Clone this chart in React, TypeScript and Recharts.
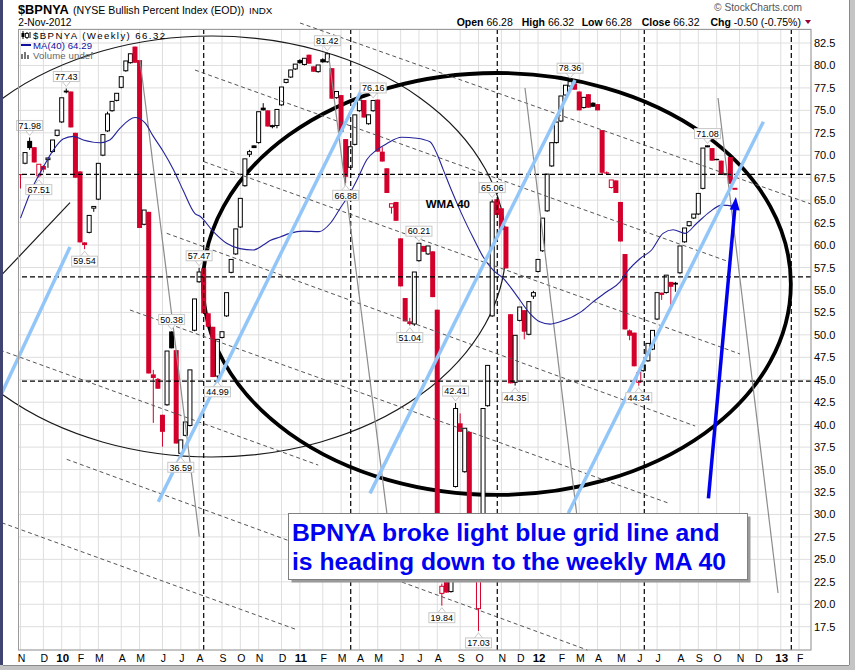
import React from 'react';
import {
  ComposedChart,
  Bar,
  Line,
  XAxis,
  YAxis,
  CartesianGrid,
  ReferenceLine,
  ReferenceArea,
  ReferenceDot,
} from 'recharts';

// weekly bars, week 0 = week ending 6-Nov-2009, week 156 = 2-Nov-2012
const OPEN = [
  67.9, 69.0, 71.6, 70.9, 67.6, 68.8, 69.4, 70.3, 72.1, 73.6,
  77.2, 77.1, 72.5, 68.2, 60.3, 61.3, 64.0, 65.0, 69.9, 72.6,
  74.85, 76.0, 77.45, 79.3, 80.2, 82.1, 80.6, 62.2, 63.7, 45.6,
  45.1, 41.1, 42.1, 50.38, 48.3, 36.7, 38.7, 39.8, 50.4, 55.8,
  57.4, 52.4, 50.9, 45.3, 49.6, 52.0, 56.85, 58.9, 61.9, 66.5,
  70.0, 71.1, 71.3, 75.3, 75.0, 73.2, 73.2, 75.5, 78.0, 78.6,
  79.5, 80.6, 80.0, 81.2, 79.9, 79.2, 80.7, 80.3, 79.7, 76.3,
  76.7, 71.8, 68.55, 71.1, 74.85, 76.15, 73.4, 74.85, 76.2, 70.4,
  68.55, 64.1, 64.8, 60.75, 54.1, 51.5, 51.1, 58.15, 59.9, 58.9,
  59.3, 52.8, 21.1, 23.2, 21.3, 33.0, 40.15, 34.65, 39.2, 24.5,
  19.4, 25.5, 42.0, 52.0, 65.1, 64.1, 62.05, 52.3, 44.6, 51.5,
  52.75, 49.95, 54.2, 56.95, 59.25, 63.7, 68.7, 71.3, 73.7, 76.6,
  77.6, 78.0, 77.1, 75.2, 76.8, 75.85, 75.7, 72.8, 68.1, 66.3,
  67.2, 64.8, 59.0, 50.5, 50.25, 44.6, 45.9, 47.0, 48.3, 51.65,
  54.7, 54.6, 55.9, 55.8, 56.8, 60.25, 62.05, 62.9, 63.35, 66.2,
  70.9, 70.8, 69.6, 69.4, 67.8, 69.8, 66.28,
];
const HIGH = [
  67.9, 70.3, 71.98, 70.9, 69.0, 68.9, 69.7, 71.7, 72.8, 76.4,
  77.43, 77.1, 72.5, 68.2, 60.3, 63.3, 64.3, 69.1, 72.3, 74.85,
  76.0, 76.9, 78.75, 80.5, 81.3, 82.1, 80.6, 63.9, 63.7, 46.1,
  45.2, 41.1, 48.2, 50.38, 48.3, 38.3, 40.3, 46.1, 54.0, 57.47,
  57.4, 52.4, 50.9, 49.5, 50.35, 54.7, 58.4, 61.8, 65.2, 69.6,
  70.6, 71.1, 74.85, 75.8, 75.0, 73.4, 75.1, 77.6, 78.45, 79.5,
  80.15, 80.7, 80.8, 81.2, 79.9, 80.05, 80.8, 81.42, 79.7, 77.1,
  76.7, 71.8, 70.95, 74.5, 76.15, 76.15, 74.5, 76.16, 76.2, 70.9,
  68.55, 64.6, 64.8, 60.75, 54.1, 51.9, 57.0, 60.21, 59.9, 59.9,
  59.3, 52.8, 22.3, 23.2, 29.5, 42.41, 41.25, 39.6, 39.2, 26.5,
  25.0, 41.8, 46.6, 65.06, 65.1, 64.1, 62.05, 52.3, 49.95, 53.1,
  52.75, 53.7, 54.9, 58.4, 63.0, 67.9, 71.4, 73.7, 76.6, 77.8,
  78.36, 78.0, 77.1, 76.45, 76.8, 75.9, 75.7, 72.8, 68.2, 67.25,
  67.2, 64.8, 59.0, 50.6, 50.25, 45.8, 46.65, 49.05, 50.5, 54.7,
  54.7, 56.65, 55.9, 55.9, 59.9, 61.9, 62.6, 63.45, 65.75, 70.8,
  71.08, 70.8, 69.6, 69.4, 67.95, 69.8, 66.32,
];
const LOW = [
  66.3, 69.0, 70.6, 69.2, 67.51, 68.1, 68.6, 70.3, 72.1, 73.6,
  76.9, 73.1, 67.5, 60.3, 59.54, 61.3, 63.7, 65.0, 69.9, 72.6,
  74.85, 76.0, 77.45, 79.3, 80.2, 80.3, 61.9, 62.2, 45.7, 40.2,
  44.0, 37.55, 42.1, 48.5, 37.9, 36.59, 38.7, 39.8, 50.4, 55.8,
  52.4, 50.9, 45.3, 44.99, 49.6, 52.0, 56.85, 58.9, 61.9, 66.5,
  69.8, 70.8, 71.3, 75.0, 73.2, 73.0, 73.0, 75.5, 78.0, 78.6,
  79.5, 80.2, 80.0, 80.2, 79.3, 79.2, 80.3, 80.3, 76.3, 76.3,
  72.6, 66.88, 68.55, 71.1, 74.85, 74.2, 73.4, 74.85, 70.4, 69.3,
  65.8, 63.5, 62.7, 55.4, 51.5, 51.04, 51.0, 58.15, 59.25, 58.9,
  54.2, 23.5, 19.84, 21.3, 21.3, 33.0, 39.2, 34.65, 24.0, 24.5,
  17.03, 25.5, 42.0, 52.0, 63.35, 61.7, 57.4, 44.6, 44.35, 51.5,
  49.5, 49.95, 54.0, 56.95, 59.25, 63.7, 68.7, 71.3, 73.7, 76.6,
  77.6, 77.3, 75.0, 75.2, 75.3, 75.4, 75.0, 67.8, 67.8, 66.3,
  65.8, 60.4, 50.6, 49.4, 46.5, 44.34, 45.9, 47.0, 48.3, 51.65,
  53.9, 54.6, 52.8, 54.8, 56.8, 60.25, 62.05, 62.9, 63.35, 66.2,
  70.9, 69.4, 69.45, 67.9, 67.8, 66.82, 66.28,
];
const CLOSE = [
  67.8, 70.3, 70.8, 69.2, 69.0, 68.4, 69.7, 71.7, 72.8, 76.4,
  77.0, 73.1, 67.5, 60.3, 60.0, 63.3, 64.3, 69.1, 72.3, 74.6,
  76.0, 76.9, 78.75, 80.5, 81.3, 80.3, 61.9, 63.9, 45.7, 45.2,
  44.0, 39.2, 48.2, 48.5, 37.9, 38.3, 40.3, 46.1, 54.0, 57.0,
  52.4, 50.9, 45.3, 49.5, 50.35, 54.7, 58.4, 61.8, 65.2, 69.6,
  70.4, 70.8, 74.85, 75.0, 73.2, 73.3, 75.1, 77.6, 78.45, 79.5,
  80.15, 80.25, 80.8, 80.2, 79.3, 80.05, 80.35, 81.3, 76.3, 77.1,
  72.6, 67.6, 70.95, 74.5, 76.15, 74.2, 74.5, 76.1, 70.4, 69.3,
  65.8, 64.6, 62.7, 55.4, 51.5, 51.2, 57.0, 60.2, 59.25, 59.9,
  54.2, 23.5, 22.0, 21.3, 29.5, 41.8, 39.2, 39.6, 24.0, 26.5,
  25.0, 41.8, 46.6, 64.8, 63.35, 61.7, 57.4, 44.6, 49.95, 53.1,
  50.35, 53.7, 54.7, 58.4, 63.0, 67.9, 71.4, 73.7, 76.6, 77.8,
  78.2, 77.3, 75.0, 76.45, 75.3, 75.4, 75.0, 68.05, 67.95, 67.25,
  65.8, 60.4, 50.6, 49.9, 46.5, 45.8, 46.65, 49.05, 50.5, 54.7,
  54.45, 56.65, 55.35, 55.6, 59.9, 61.9, 62.6, 63.45, 65.75, 70.8,
  71.05, 69.4, 69.45, 67.9, 67.95, 66.82, 66.32,
];
const PREV_CLOSE = 68.3;

// MA(40)
const MA_WEEK = [
  0, 2.7, 5, 7.2, 9.3, 11.5, 13.7, 17.4, 19.5, 21.7, 25, 27.2, 29, 31.2, 33.4,
  35.5, 38.1, 39.2, 42.1, 45, 47.9, 50.8, 53, 54.5, 56.7, 58.8, 61.7, 65.2,
  67.6, 69.8, 71.9, 73.8, 75.6, 77.8, 80, 83.2, 86.5, 89.4, 90.9, 92.3, 94.1,
  96.3, 98.9, 101, 103.2, 105.4, 108.3, 111.2, 113.4, 115.6, 117.8, 122.2,
  125.1, 128, 130.9, 132.4, 135.3, 137.8, 140.3, 142.5, 145.1, 147.6, 150.5,
  153.1, 156,
];
const MA_VALUE = [
  63.0, 66.5, 68.7, 70.6, 71.8, 72.1, 71.7, 71.4, 71.7, 73.0, 74.2, 73.6, 72.1,
  70.4, 68.4, 66.1, 63.5, 63.2, 61.5, 60.2, 59.6, 59.45, 60.0, 60.5, 60.9, 61.3,
  61.55, 61.5, 62.4, 64.1, 65.75, 67.6, 69.5, 70.6, 71.3, 72.0, 71.9, 71.5,
  70.2, 68.4, 66.1, 63.5, 60.75, 58.7, 57.2, 56.3, 54.4, 52.4, 51.45, 51.2,
  51.45, 52.5, 53.7, 54.8, 55.9, 57.0, 58.5, 59.45, 61.3, 61.7, 61.3, 62.4,
  63.7, 64.45, 64.29,
];

const MONTH_TICKS = [
  0, 5, 9, 13, 17, 22, 26, 31, 35, 39, 44, 48, 52, 57, 61, 66, 70, 74, 78, 83,
  87, 91, 96, 100, 105, 109, 113, 118, 122, 126, 131, 135, 139, 144, 148, 152,
  157, 161, 166, 170,
];
const MONTH_LABELS = [
  'N', 'D', '10', 'F', 'M', 'A', 'M', 'J', 'J', 'A', 'S', 'O', 'N', 'D', '11',
  'F', 'M', 'A', 'M', 'J', 'J', 'A', 'S', 'O', 'N', 'D', '12', 'F', 'M', 'A',
  'M', 'J', 'J', 'A', 'S', 'O', 'N', 'D', '13', 'F',
];
const PRICE_TICKS = [
  17.5, 20, 22.5, 25, 27.5, 30, 32.5, 35, 37.5, 40, 42.5, 45, 47.5, 50, 52.5,
  55, 57.5, 60, 62.5, 65, 67.5, 70, 72.5, 75, 77.5, 80, 82.5,
];

// high / low tags
const TAG_WEEKS = [2, 10, 4, 14, 33, 35, 39, 43, 67, 71, 77, 85, 87, 92, 95, 100, 103, 108, 120, 135, 150];
const TAG_TEXT = ['71.98', '77.43', '67.51', '59.54', '50.38', '36.59', '57.47', '44.99', '81.42', '66.88', '76.16', '51.04', '60.21', '19.84', '42.41', '17.03', '65.06', '44.35', '78.36', '44.34', '71.08'];
const TAG_UP = [true, true, false, false, true, false, true, false, true, false, true, false, true, false, true, false, true, false, true, false, true];

// drawn annotations, [week1, value1, week2, value2]
const DASHED_TRENDS = [
  [61.03, 84.73, 172.6, 64.57],
  [38.1, 79.49, 154.9, 58.1],
  [40.07, 69.28, 157.1, 47.87],
  [31.92, 61.31, 147.3, 39.85],
  [23.9, 52.77, 141.4, 31.28],
  [-4.48, 48.31, 65.0, 35.5],
  [10.09, 36.14, 123.8, 14.9],
  [-4.1, 29.08, 59.93, 17.24],
];
const BLUE_GRID = [
  [-4.1, 43.49, 10.81, 59.78],
  [30.09, 31.42, 75.22, 78.05],
  [76.31, 32.35, 121.07, 78.38],
  [119.6, 30.13, 162.2, 73.74],
];
const GRAY_LINES = [
  [26.09, 80.61, 39.04, 27.52],
  [67.36, 80.83, 80.02, 30.05],
  [110.15, 77.49, 123.25, 22.48],
  [152.3, 76.38, 165.4, 21.25],
];
const THIN_LINE = [-4.48, 56.48, 10.81, 64.72];
const ARROW = [150.2, 31.8, 156.2, 65.35];
const H_LEVELS = [67.88, 56.45, 44.85];
const V_WEEKS = [40, 72.1, 104.1, 136.2, 168.3];
const THIN_ELLIPSE = [-22.55, 106.0, 36.4, 83.28];
const THICK_ELLIPSE = [39.85, 168.2, 32.17, 79.16];

const X_MIN = -0.437;
const X_MAX = 172.6;
const Y_MIN = 14.906;
const Y_MAX = 84.06;
const RED = '#d3002c';
const FONT = '"Liberation Sans", Arial, sans-serif';

const candles = CLOSE.map((c, i) => ({
  i,
  o: OPEN[i],
  h: HIGH[i],
  l: LOW[i],
  c,
  prev: i === 0 ? PREV_CLOSE : CLOSE[i - 1],
  span: [Y_MIN, Y_MAX],
}));
const maData = MA_WEEK.map((w, k) => ({ i: w, ma: MA_VALUE[k] }));

const Candle = (props: any) => {
  const { x, y, width, height, payload } = props;
  if (!payload || height == null) return null;
  const cx = x + width / 2;
  const py = (v: number) => y + ((Y_MAX - v) / (Y_MAX - Y_MIN)) * height;
  const { o, h, l, c, prev } = payload;
  const color = c < prev ? RED : '#000';
  const hollow = c > o;
  const top = py(Math.max(o, c));
  const bh = Math.max(1, py(Math.min(o, c)) - top);
  return (
    <g>
      <line x1={cx} x2={cx} y1={py(h)} y2={py(l)} stroke={color} strokeWidth={1} />
      {hollow ? (
        <rect x={cx - 2} y={top} width={4} height={Math.max(1, bh - 1)} fill="#fff" stroke={color} strokeWidth={1} />
      ) : (
        <rect x={cx - 2.5} y={top} width={5} height={bh} fill={color} />
      )}
    </g>
  );
};

const MonthTick = (props: any) => {
  const { x, y, payload } = props;
  const label = MONTH_LABELS[MONTH_TICKS.indexOf(payload.value)];
  const year = /\d/.test(label);
  return (
    <text x={x + 1} y={y + 12} textAnchor="middle" fontFamily={FONT} fontSize={year ? 11.5 : 10.5} fontWeight={year ? 'bold' : 'normal'} fill="#000">
      {label}
    </text>
  );
};

const PriceTick = (props: any) => {
  const { x, y, payload } = props;
  return (
    <text x={x} y={y + 4} textAnchor="start" fontFamily={FONT} fontSize={11} fill="#000">
      {payload.value.toFixed(1)}
    </text>
  );
};

const tagShape = (text: string, up: boolean) => (p: any) => {
  const { cx, cy } = p;
  const w = 26;
  const h = 10;
  const by = up ? cy - 7 - h : cy + 7;
  const tipY = up ? cy - 2 : cy + 2;
  const baseY = up ? by + h : by;
  return (
    <g>
      <polyline points={`${cx - 4},${baseY} ${cx},${tipY} ${cx + 4},${baseY}`} fill="#fff" stroke="#c8c8c8" strokeWidth={1} />
      <rect x={cx - w / 2} y={by} width={w} height={h} fill="#fff" stroke="#c8c8c8" strokeWidth={1} />
      <text x={cx} y={by + 8.3} textAnchor="middle" fontFamily={FONT} fontSize={9} fill="#000">
        {text}
      </text>
    </g>
  );
};

const ellipseShape = (stroke: string, sw: number) => (p: any) => (
  <ellipse cx={p.x + p.width / 2} cy={p.y + p.height / 2} rx={Math.abs(p.width / 2)} ry={Math.abs(p.height / 2)} fill="none" stroke={stroke} strokeWidth={sw} />
);

const arrowShape = (p: any) => {
  const { x1, y1, x2, y2 } = p;
  const ang = Math.atan2(y2 - y1, x2 - x1);
  const len = 13;
  const half = 5;
  const bx = x2 - len * Math.cos(ang);
  const by = y2 - len * Math.sin(ang);
  const nx = -Math.sin(ang) * half;
  const ny = Math.cos(ang) * half;
  return (
    <g>
      <line x1={x1} y1={y1} x2={bx} y2={by} stroke="#0000f0" strokeWidth={3.5} />
      <polygon points={`${x2},${y2} ${bx + nx},${by + ny} ${bx - nx},${by - ny}`} fill="#0000f0" />
    </g>
  );
};

const seg = (s: number[]) => [
  { x: s[0], y: s[1] },
  { x: s[2], y: s[3] },
];

export default function App() {
  return (
    <div style={{ position: 'absolute', left: 0, top: 0, width: 855, height: 670, background: '#fff', overflow: 'hidden' }}>
      <ComposedChart width={855} height={670} data={candles} margin={{ top: 29, right: 0, bottom: 0, left: 18.5 }}>
        <CartesianGrid stroke="#dedede" strokeWidth={1} />
        <XAxis
          dataKey="i"
          type="number"
          domain={[X_MIN, X_MAX]}
          allowDataOverflow
          ticks={MONTH_TICKS}
          interval={0}
          tick={<MonthTick />}
          tickLine={false}
          axisLine={false}
          tickSize={0}
          tickMargin={0}
          height={20}
        />
        <YAxis
          orientation="right"
          type="number"
          domain={[Y_MIN, Y_MAX]}
          allowDataOverflow
          ticks={PRICE_TICKS}
          interval={0}
          tick={<PriceTick />}
          tickLine={false}
          axisLine={false}
          tickSize={0}
          tickMargin={3}
          width={44}
        />
        {H_LEVELS.map((v) => (
          <ReferenceLine key={`h${v}`} y={v} stroke="#000" strokeDasharray="5 3" strokeWidth={1.2} />
        ))}
        {V_WEEKS.map((w) => (
          <ReferenceLine key={`v${w}`} x={w} stroke="#000" strokeDasharray="5 3" strokeWidth={1.2} />
        ))}
        {DASHED_TRENDS.map((s, k) => (
          <ReferenceLine key={`d${k}`} segment={seg(s)} stroke="#555" strokeDasharray="4 3" strokeWidth={1} ifOverflow="visible" />
        ))}
        <ReferenceArea x1={THIN_ELLIPSE[0]} x2={THIN_ELLIPSE[1]} y1={THIN_ELLIPSE[2]} y2={THIN_ELLIPSE[3]} ifOverflow="visible" shape={ellipseShape('#1a1a1a', 1.2)} />
        <ReferenceLine segment={seg(THIN_LINE)} stroke="#1a1a1a" strokeWidth={1.2} ifOverflow="visible" />
        {GRAY_LINES.map((s, k) => (
          <ReferenceLine key={`g${k}`} segment={seg(s)} stroke="#8c8c8c" strokeWidth={1.2} ifOverflow="visible" />
        ))}
        <Bar dataKey="span" barSize={5} shape={<Candle />} isAnimationActive={false} />
        <Line data={maData} dataKey="ma" type="monotone" stroke="#23239b" strokeWidth={1.1} dot={false} isAnimationActive={false} />
        {BLUE_GRID.map((s, k) => (
          <ReferenceLine key={`b${k}`} segment={seg(s)} stroke="#93c6f8" strokeWidth={3.5} ifOverflow="visible" />
        ))}
        <ReferenceArea x1={THICK_ELLIPSE[0]} x2={THICK_ELLIPSE[1]} y1={THICK_ELLIPSE[2]} y2={THICK_ELLIPSE[3]} ifOverflow="visible" shape={ellipseShape('#000', 3.8)} />
        <ReferenceLine segment={seg(ARROW)} ifOverflow="visible" shape={arrowShape} />
        {TAG_WEEKS.map((w, k) => (
          <ReferenceDot key={`t${k}`} x={w} y={TAG_UP[k] ? HIGH[w] : LOW[w]} r={0} ifOverflow="visible" shape={tagShape(TAG_TEXT[k], TAG_UP[k])} />
        ))}
        <ReferenceDot
          x={93.3}
          y={64.57}
          r={0}
          ifOverflow="visible"
          shape={(p: any) => (
            <text x={p.cx} y={p.cy + 4} textAnchor="middle" fontFamily={FONT} fontSize={11.5} fontWeight="bold" fill="#000">
              WMA 40
            </text>
          )}
        />
      </ComposedChart>

      <svg width={855} height={670} style={{ position: 'absolute', left: 0, top: 0, pointerEvents: 'none' }} fontFamily={FONT}>
        <rect x={18.5} y={29.5} width={792.5} height={620.5} fill="none" stroke="#9a9a9a" strokeWidth={1} />
        <rect x={0} y={0} width={3} height={670} fill="#3f4470" />
        <rect x={849} y={0} width={6} height={670} fill="#c4c4c4" />
        <rect x={849} y={0} width={1} height={666} fill="#8a8a8a" />
        <rect x={0} y={665} width={855} height={5} fill="#c4c4c4" />
        <rect x={3} y={665} width={846} height={1} fill="#8a8a8a" />

        <text x={18} y={14} fontSize={12.8} fontWeight="bold" fill="#000">$BPNYA</text>
        <text x={73} y={13.5} fontSize={10.6} fill="#000">(NYSE Bullish Percent Index (EOD))</text>
        <text x={249} y={13.5} fontSize={9.8} fill="#000">INDX</text>
        <text x={18.3} y={26} fontSize={10.2} fill="#000">2-Nov-2012</text>
        <text x={802} y={11} textAnchor="end" fontSize={10.2} fill="#555">© StockCharts.com</text>

        <text x={456.7} y={25.5} fontSize={10.5} fill="#000">
          <tspan fontWeight="bold">Open</tspan> 66.28
        </text>
        <text x={521.7} y={25.5} fontSize={10.5} fill="#000">
          <tspan fontWeight="bold">High</tspan> 66.32
        </text>
        <text x={581.7} y={25.5} fontSize={10.5} fill="#000">
          <tspan fontWeight="bold">Low</tspan> 66.28
        </text>
        <text x={641.7} y={25.5} fontSize={10.5} fill="#000">
          <tspan fontWeight="bold">Close</tspan> 66.32
        </text>
        <text x={710.5} y={25.5} fontSize={10.5} fill="#000">
          <tspan fontWeight="bold">Chg</tspan> -0.50 (-0.75%)
        </text>
        <polygon points="805,20 811,20 808,24" fill="#990033" />

        <g>
          <line x1={23} x2={23} y1={31} y2={39} stroke="#000" />
          <rect x={21.5} y={33} width={3} height={4} fill="#000" />
          <line x1={27} x2={27} y1={32} y2={39} stroke="#000" />
          <rect x={25.5} y={33.5} width={3} height={4} fill="#fff" stroke="#000" strokeWidth={0.8} />
          <line x1={30} x2={30} y1={32} y2={38} stroke="#000" />
        </g>
        <text x={33} y={39} fontSize={9.6} fill="#000" textLength={132} lengthAdjust="spacing">$BPNYA (Weekly) 66.32</text>
        <line x1={21} x2={31} y1={45} y2={45} stroke="#1010a0" strokeWidth={2} />
        <text x={33} y={49} fontSize={9.6} fill="#1010a0" textLength={59} lengthAdjust="spacing">MA(40) 64.29</text>
        <g fill="#777">
          <rect x={21} y={54} width={2} height={5} />
          <rect x={24} y={52} width={2} height={7} />
          <rect x={27} y={55} width={2} height={4} />
        </g>
        <text x={33} y={59} fontSize={9.6} fill="#666" textLength={60} lengthAdjust="spacing">Volume undef</text>

        <rect x={291.5} y={516.5} width={459} height={66} fill="#9a9a9a" />
        <rect x={288.5} y={513.5} width={459} height={66} fill="#fff" stroke="#808080" strokeWidth={1} />
        <text x={292} y={541} fontSize={24.7} fontWeight="bold" fill="#0000f0">BPNYA broke light blue grid line and</text>
        <text x={292} y={569.5} fontSize={24.7} fontWeight="bold" fill="#0000f0">is heading down to the weekly MA 40</text>
      </svg>
    </div>
  );
}
